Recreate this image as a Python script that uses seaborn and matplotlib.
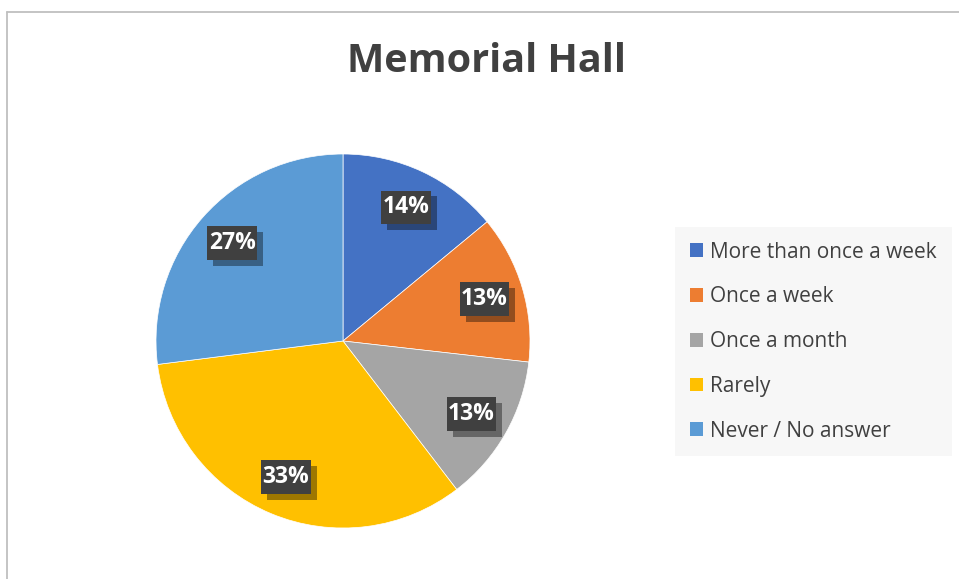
import matplotlib
matplotlib.use("Agg")
import matplotlib.pyplot as plt
import matplotlib.patheffects as pe
from matplotlib.lines import Line2D
import seaborn as sns

# ---- data ----
categories = ["More than once a week", "Once a week", "Once a month", "Rarely", "Never / No answer"]
values = [14.0, 12.8, 12.8, 33.4, 27.0]
colors = ["#4472C4", "#ED7D31", "#A5A5A5", "#FFC000", "#5B9BD5"]
title = "Memorial Hall"

sns.set_theme(style="white")
plt.rcParams["font.family"] = ["Open Sans", "DejaVu Sans"]

W, H = 959, 579
fig = plt.figure(figsize=(W / 100, H / 100), dpi=100)
fig.patch.set_facecolor("white")

cx, cy, r = 343, 341, 187
ax = fig.add_axes([(cx - r) / W, (H - cy - r) / H, 2 * r / W, 2 * r / H])
palette = sns.color_palette(colors)

wedges, texts, autotexts = ax.pie(
    values,
    colors=palette,
    startangle=90,
    counterclock=False,
    radius=1,
    autopct=lambda p: f"{p:.0f}%",
    pctdistance=0.79,
    wedgeprops=dict(linewidth=0.5, edgecolor="white"),
    textprops=dict(color="white", fontweight="bold", fontsize=16.5),
)
ax.set_xlim(-1, 1)
ax.set_ylim(-1, 1)
ax.set_aspect("equal")
ax.axis("off")

for t in autotexts:
    t.set_bbox(dict(boxstyle="square,pad=0.06", facecolor="#404040", edgecolor="none",
                    mutation_aspect=3.5))
    t.get_bbox_patch().set_path_effects([
        pe.SimplePatchShadow(offset=(4.3, -4.3), shadow_rgbFace="black", alpha=0.38),
        pe.Normal(),
    ])

leg = fig.legend(
    wedges, categories,
    loc="upper left",
    bbox_to_anchor=(675 / W, 1 - 227 / H),
    bbox_transform=fig.transFigure,
    borderaxespad=0,
    frameon=True,
    fancybox=False,
    facecolor="#F7F7F7",
    edgecolor="none",
    framealpha=1,
    prop=dict(family="Open Sans", size=15),
    handlelength=0.65,
    handleheight=0.65,
    handletextpad=0.35,
    labelspacing=1.14,
    borderpad=0.7,
)
for txt in leg.get_texts():
    txt.set_color("#404040")
for h in leg.legend_handles:
    h.set_edgecolor("none")

fig.text(486.7 / W, 1 - 62 / H, title, ha="center", va="center",
         fontsize=28.5, fontweight="bold", color="#404040", family="Open Sans")

# chart-area border (top and left visible)
fig.add_artist(Line2D([7 / W, 7 / W], [0, 1 - 12 / H], transform=fig.transFigure,
                      color="#BFBFBF", linewidth=1.3))
fig.add_artist(Line2D([7 / W, 1], [1 - 12 / H, 1 - 12 / H], transform=fig.transFigure,
                      color="#BFBFBF", linewidth=1.3))

fig.savefig("out.png", dpi=100)
